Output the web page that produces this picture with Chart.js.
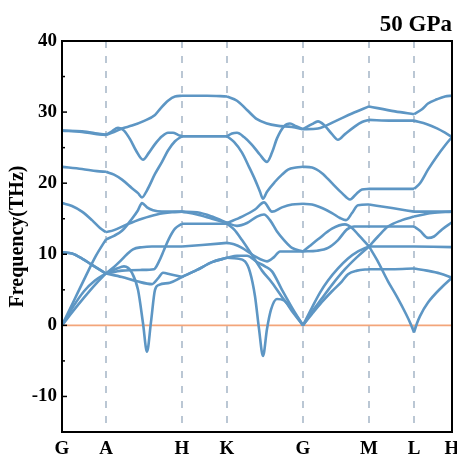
<!DOCTYPE html>
<html>
<head>
<meta charset="utf-8">
<script src="https://cdn.jsdelivr.net/npm/chart.js@4.4.1/dist/chart.umd.min.js"></script>
<style>
  html, body { margin: 0; padding: 0; background: #fff; }
  #wrap { width: 457px; height: 457px; }
</style>
</head>
<body>
<div id="wrap"><canvas id="myChart" width="457" height="457"></canvas></div>
<script>
// high-symmetry points along the path
const kPath = [0, 44, 120, 165, 241, 307, 352, 390];
const kLabels = ['G', 'A', 'H', 'K', 'G', 'M', 'L', 'H'];
const yTicks = [-10, 0, 10, 20, 30, 40];

// phonon branches, [path position, frequency THz]
const band1 = [[0,27.4],[20,27.3],[35,27.0],[44,26.8],[52,27.2],[60,27.7],[70,28.1],[81,28.7],[93,29.6],[99,30.6],[106,31.6],[113,32.2],[120,32.3],[145,32.3],[165,32.2],[175,31.6],[185,30.3],[195,29.0],[205,28.4],[215,28.1],[230,27.9],[241,27.6],[256,27.7],[273,28.7],[290,29.8],[307,30.8],[333,30.1],[352,29.7],[360,30.4],[366,31.2],[375,31.8],[383,32.2],[390,32.3]];
const band2 = [[0,27.4],[20,27.2],[35,26.9],[44,26.8],[50,27.3],[56,27.8],[62,27.4],[68,26.2],[74,24.6],[81,23.3],[87,24.3],[93,25.5],[100,26.6],[106,27.1],[111,27.1],[116,26.8],[120,26.6],[165,26.6],[170,27.0],[175,27.1],[182,26.5],[190,25.4],[198,24.0],[205,23.0],[210,24.3],[215,26.3],[222,28.0],[228,28.4],[234,28.0],[241,27.6],[250,28.3],[256,28.7],[262,28.2],[270,26.9],[276,26.1],[283,26.9],[293,28.0],[300,28.6],[307,28.9],[330,28.8],[352,28.8],[365,28.3],[375,27.7],[383,27.1],[390,26.5]];
const band3 = [[0,22.3],[20,22.0],[35,21.7],[44,21.6],[52,21.2],[60,20.5],[70,19.3],[76,18.6],[80,18.0],[85,19.0],[93,21.3],[100,23.0],[106,24.6],[113,25.9],[120,26.6],[165,26.6],[172,25.8],[180,24.3],[187,22.3],[193,20.5],[198,18.8],[201,17.8],[205,18.8],[213,20.2],[220,21.2],[226,21.9],[234,22.2],[241,22.3],[250,22.2],[260,21.4],[270,20.0],[280,18.6],[288,17.7],[295,18.6],[300,19.1],[307,19.2],[352,19.2],[358,20.0],[366,21.9],[375,23.8],[383,25.3],[390,26.5]];
const band4 = [[0,17.2],[10,16.8],[20,16.0],[30,14.8],[38,13.7],[44,13.1],[52,13.4],[65,14.2],[80,15.0],[95,15.6],[110,15.9],[120,16.0],[135,15.6],[150,15.0],[165,14.4],[175,14.0],[185,14.4],[195,15.3],[202,15.6],[208,14.8],[215,13.2],[222,12.0],[230,10.9],[241,10.4],[255,10.5],[266,10.9],[276,12.0],[285,13.5],[292,13.9],[307,13.9],[352,13.9],[358,13.3],[366,12.3],[372,12.5],[380,13.5],[390,14.5]];
const band5 = [[0,0],[12,3.5],[24,7.0],[34,9.8],[44,12.1],[52,12.6],[60,13.3],[70,15.0],[76,16.2],[80,17.2],[85,16.6],[91,16.2],[100,16.0],[120,16.0],[135,15.9],[150,15.3],[165,14.4],[180,15.3],[193,16.3],[202,17.3],[210,16.0],[220,16.6],[230,17.0],[241,17.1],[250,17.0],[260,16.5],[270,15.8],[278,15.1],[284,14.8],[290,15.8],[296,16.9],[307,17.0],[330,16.5],[352,16.0],[370,16.0],[390,16.0]];
const band6 = [[0,10.3],[10,10.1],[20,9.4],[30,8.5],[38,7.8],[44,7.3],[52,8.2],[58,9.0],[65,10.0],[71,10.7],[80,11.0],[90,11.1],[120,11.1],[140,11.3],[165,11.6],[172,11.4],[180,10.9],[193,9.7],[205,9.0],[212,9.6],[218,10.4],[241,10.4],[248,11.2],[256,12.1],[270,13.6],[283,14.2],[290,13.7],[296,12.8],[307,11.1],[315,9.2],[326,6.2],[335,4.0],[344,1.6],[349,0.1],[352,-1.0],[355,0.3],[358,1.3],[366,3.2],[380,5.4],[390,6.7]];
const band7 = [[0,10.3],[10,10.1],[20,9.4],[30,8.5],[38,7.8],[44,7.3],[60,7.7],[80,7.8],[92,7.9],[97,9.0],[102,10.6],[107,12.2],[113,13.6],[120,14.3],[165,14.3],[172,13.5],[180,12.0],[190,9.9],[200,7.7],[210,6.0],[220,4.0],[230,2.2],[241,0],[250,1.9],[260,3.8],[270,5.7],[283,7.9],[295,9.6],[307,11.1],[316,12.5],[326,13.9],[340,14.8],[352,15.3],[370,15.8],[390,16.0]];
const band8 = [[0,0],[11,2.6],[22,4.8],[33,6.3],[44,7.3],[55,8.0],[62,8.3],[70,7.4],[76,5.0],[81,0.3],[85,-3.7],[89,0.5],[93,5.0],[97,5.7],[108,6.0],[120,6.8],[135,7.8],[150,8.9],[165,9.5],[175,9.4],[183,9.0],[188,7.5],[193,4.1],[197,-0.5],[201,-4.3],[205,-0.5],[209,2.2],[215,3.7],[222,3.5],[230,2.0],[241,0],[250,2.5],[258,4.6],[266,6.3],[276,8.0],[286,9.4],[296,10.4],[307,11.1],[330,11.1],[352,11.1],[390,11.0]];
const band9 = [[0,0],[11,2.0],[22,3.9],[33,5.7],[44,7.3],[60,6.8],[75,6.2],[90,5.8],[96,6.6],[101,7.4],[108,7.2],[120,6.8],[135,7.8],[150,8.9],[165,9.5],[175,9.8],[185,9.8],[195,8.9],[203,8.3],[210,7.6],[220,5.0],[230,2.5],[241,0],[250,1.6],[260,3.3],[270,4.8],[280,6.2],[286,7.2],[295,7.7],[307,7.9],[330,7.9],[352,8.0],[365,7.7],[378,7.3],[390,6.7]];
const bands = [band1, band2, band3, band4, band5, band6, band7, band8, band9];

const bandColor = '#5d96c4';
const serif = 'Liberation Serif, Times New Roman, serif';

// split each branch at the high-symmetry points so kinks stay sharp
const datasets = [];
bands.forEach(b => {
  for (let i = 0; i < kPath.length - 1; i++) {
    const seg = b.filter(p => p[0] >= kPath[i] && p[0] <= kPath[i + 1]).map(p => ({x: p[0], y: p[1]}));
    datasets.push({
      data: seg,
      showLine: true,
      borderColor: bandColor,
      borderWidth: 2.6,
      pointRadius: 0,
      cubicInterpolationMode: 'monotone',
      fill: false
    });
  }
});
datasets.push({
  data: [{x: kPath[0], y: 0}, {x: kPath[kPath.length - 1], y: 0}],
  showLine: true,
  borderColor: '#f3a57a',
  borderWidth: 1.8,
  pointRadius: 0
});

const framePlugin = {
  id: 'frame',
  beforeDatasetsDraw: (chart) => {
    const {ctx, chartArea: a} = chart;
    const x = chart.scales.x;
    ctx.save();
    ctx.strokeStyle = '#8ea2b8';
    ctx.lineWidth = 1.2;
    ctx.setLineDash([7, 8]);
    kPath.slice(1, -1).forEach(v => {
      const px = x.getPixelForValue(v);
      ctx.beginPath();
      ctx.moveTo(px, a.top);
      ctx.lineTo(px, a.bottom);
      ctx.stroke();
    });
    ctx.restore();
  },
  afterDatasetsDraw: (chart) => {
    const {ctx, chartArea: a} = chart;
    const y = chart.scales.y;
    ctx.save();
    ctx.strokeStyle = '#000';
    ctx.lineWidth = 2;
    ctx.strokeRect(a.left, a.top, a.right - a.left, a.bottom - a.top);
    ctx.lineWidth = 1.5;
    for (let v = -15; v <= 40; v += 5) {
      const py = y.getPixelForValue(v);
      const len = v % 10 === 0 ? 5 : 3;
      ctx.beginPath();
      ctx.moveTo(a.left, py);
      ctx.lineTo(a.left + len, py);
      ctx.stroke();
    }
    ctx.restore();
  }
};

new Chart(document.getElementById('myChart'), {
  type: 'scatter',
  data: {datasets: datasets},
  options: {
    responsive: false,
    animation: false,
    events: [],
    layout: {padding: {top: 0, right: 5, bottom: 0, left: 0}},
    plugins: {
      legend: {display: false},
      tooltip: {enabled: false},
      title: {
        display: true,
        text: '50 GPa',
        align: 'end',
        color: '#000',
        font: {family: serif, size: 23, weight: 'bold'},
        padding: {top: 11, bottom: 2.4}
      }
    },
    scales: {
      x: {
        type: 'linear',
        min: kPath[0],
        max: kPath[kPath.length - 1],
        grid: {display: false, drawTicks: false},
        border: {display: false},
        afterBuildTicks: (s) => { s.ticks = kPath.map(v => ({value: v})); },
        afterFit: (s) => { s.height = 25; s.paddingLeft = 0; s.paddingRight = 0; },
        ticks: {
          autoSkip: false,
          maxRotation: 0,
          padding: 6,
          color: '#000',
          font: {family: serif, size: 19, weight: 'bold'},
          callback: (v, i) => kLabels[i]
        }
      },
      y: {
        min: -15,
        max: 40,
        grid: {display: false, drawTicks: false},
        border: {display: false},
        afterBuildTicks: (s) => { s.ticks = yTicks.map(v => ({value: v})); },
        afterFit: (s) => { s.width = 62; s.paddingTop = 0; s.paddingBottom = 0; },
        ticks: {
          padding: 5,
          color: '#000',
          font: {family: serif, size: 19, weight: 'bold'}
        },
        title: {
          display: true,
          text: 'Frequency(THz)',
          color: '#000',
          font: {family: serif, size: 20, weight: 'bold'},
          padding: {top: 6, bottom: 0}
        }
      }
    }
  },
  plugins: [framePlugin]
});
</script>
</body>
</html>
